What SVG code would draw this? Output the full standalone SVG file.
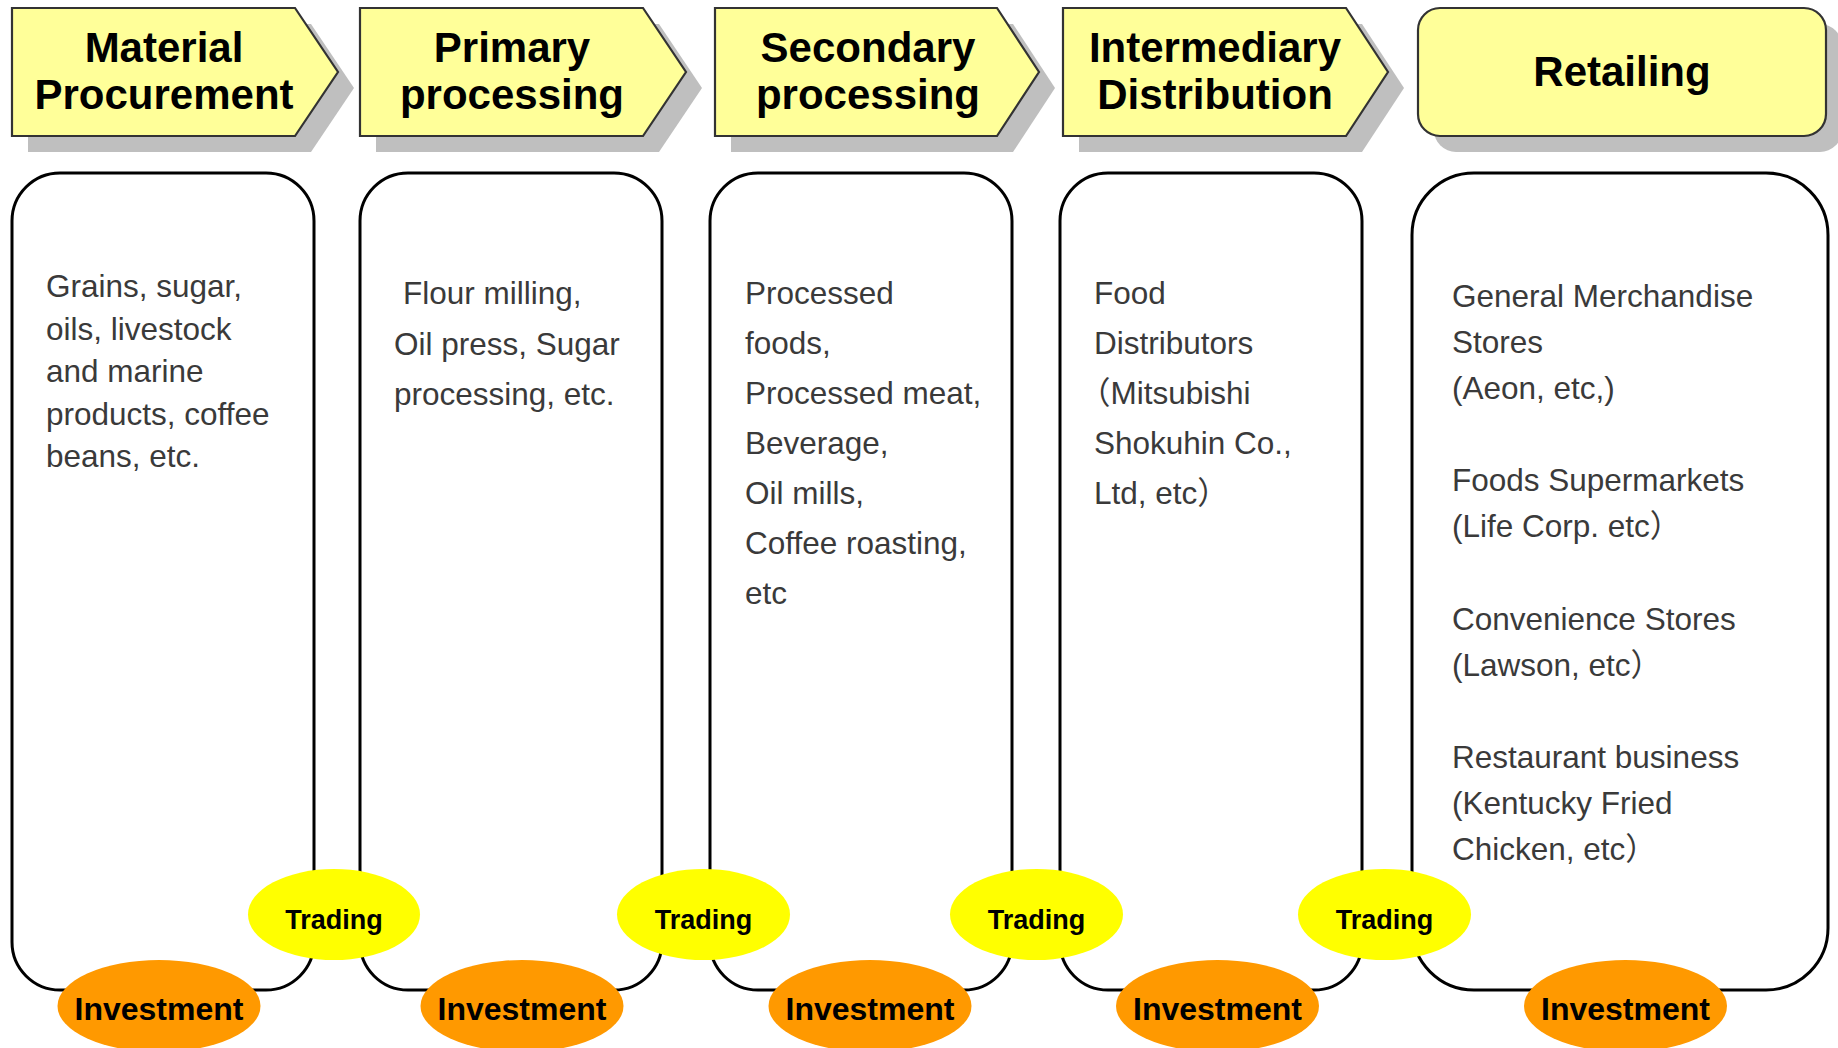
<svg xmlns="http://www.w3.org/2000/svg" width="1838" height="1048" viewBox="0 0 1838 1048">
<defs>
<style>
.shadow{fill:#bfbfbf;stroke:none}
.head{fill:#ffff99;stroke:#333333;stroke-width:2.2}
.htxt{font-family:"Liberation Sans",Arial,sans-serif;font-weight:bold;font-size:42px;fill:#000;text-anchor:middle}
.box{fill:#ffffff;stroke:#000;stroke-width:3}
.body{font-family:"Liberation Sans",Arial,"Noto Sans CJK JP",sans-serif;font-size:31.5px;fill:#3a3a3a}
.trade{fill:#ffff00}
.invest{fill:#ff9900}
.ttxt{font-family:"Liberation Sans",Arial,sans-serif;font-weight:bold;font-size:27px;fill:#000;text-anchor:middle}
.itxt{font-family:"Liberation Sans",Arial,sans-serif;font-weight:bold;font-size:32px;fill:#000;text-anchor:middle}
</style>
</defs>
<rect width="1838" height="1048" fill="#ffffff"/>

<g id="header-material">
<polygon class="shadow" points="28,24 311,24 354,88 311,152 28,152"/>
<polygon class="head" points="12,8 295,8 338,72 295,136 12,136"/>
<text class="htxt" x="164" y="62">Material</text>
<text class="htxt" x="164" y="109">Procurement</text>
</g>
<g id="header-primary">
<polygon class="shadow" points="376,24 659,24 702,88 659,152 376,152"/>
<polygon class="head" points="360,8 643,8 686,72 643,136 360,136"/>
<text class="htxt" x="512" y="62">Primary</text>
<text class="htxt" x="512" y="109">processing</text>
</g>
<g id="header-secondary">
<polygon class="shadow" points="731,24 1013,24 1055,88 1013,152 731,152"/>
<polygon class="head" points="715,8 997,8 1039,72 997,136 715,136"/>
<text class="htxt" x="868" y="62">Secondary</text>
<text class="htxt" x="868" y="109">processing</text>
</g>
<g id="header-intermediary">
<polygon class="shadow" points="1079,24 1362,24 1404,88 1362,152 1079,152"/>
<polygon class="head" points="1063,8 1346,8 1388,72 1346,136 1063,136"/>
<text class="htxt" x="1215" y="62">Intermediary</text>
<text class="htxt" x="1215" y="109">Distribution</text>
</g>
<g id="header-retailing">
<rect class="shadow" x="1434" y="24" width="408" height="128" rx="22"/>
<rect class="head" x="1418" y="8" width="408" height="128" rx="22"/>
<text class="htxt" x="1622" y="86">Retailing</text>
</g>

<g id="box-material">
<rect class="box" x="12" y="173" width="302" height="817" rx="48"/>
<text class="body"><tspan x="46" y="297">Grains, sugar,</tspan><tspan x="46" y="340">oils, livestock</tspan><tspan x="46" y="382">and marine</tspan><tspan x="46" y="425">products, coffee</tspan><tspan x="46" y="467">beans, etc.</tspan></text>
</g>
<g id="box-primary">
<rect class="box" x="360" y="173" width="302" height="817" rx="48"/>
<text class="body"><tspan x="403" y="304">Flour milling,</tspan><tspan x="394" y="355">Oil press, Sugar</tspan><tspan x="394" y="405">processing, etc.</tspan></text>
</g>
<g id="box-secondary">
<rect class="box" x="710" y="173" width="302" height="817" rx="48"/>
<text class="body"><tspan x="745" y="304">Processed</tspan><tspan x="745" y="354">foods,</tspan><tspan x="745" y="404">Processed meat,</tspan><tspan x="745" y="454">Beverage,</tspan><tspan x="745" y="504">Oil mills,</tspan><tspan x="745" y="554">Coffee roasting,</tspan><tspan x="745" y="604">etc</tspan></text>
</g>
<g id="box-intermediary">
<rect class="box" x="1060" y="173" width="302" height="817" rx="48"/>
<text class="body"><tspan x="1094" y="304">Food</tspan><tspan x="1094" y="354">Distributors</tspan><tspan x="1079" y="404">（Mitsubishi</tspan><tspan x="1094" y="454">Shokuhin Co.,</tspan><tspan x="1094" y="504">Ltd, etc）</tspan></text>
</g>
<g id="box-retailing">
<rect class="box" x="1412" y="173" width="416" height="817" rx="62"/>
<text class="body"><tspan x="1452" y="307">General Merchandise</tspan><tspan x="1452" y="353">Stores</tspan><tspan x="1452" y="399">(Aeon, etc,)</tspan><tspan x="1452" y="491">Foods Supermarkets</tspan><tspan x="1452" y="537">(Life Corp. etc）</tspan><tspan x="1452" y="630">Convenience Stores</tspan><tspan x="1452" y="676">(Lawson, etc）</tspan><tspan x="1452" y="768">Restaurant business</tspan><tspan x="1452" y="814">(Kentucky Fried</tspan><tspan x="1452" y="860">Chicken, etc）</tspan></text>
</g>

<g id="trading-1"><ellipse class="trade" cx="334" cy="914.5" rx="86" ry="45.5"/><text class="ttxt" x="334" y="929">Trading</text></g>
<g id="trading-2"><ellipse class="trade" cx="703.5" cy="914.5" rx="86.5" ry="45.5"/><text class="ttxt" x="703.5" y="929">Trading</text></g>
<g id="trading-3"><ellipse class="trade" cx="1036.5" cy="914.5" rx="86.5" ry="45.5"/><text class="ttxt" x="1036.5" y="929">Trading</text></g>
<g id="trading-4"><ellipse class="trade" cx="1384.5" cy="914.5" rx="86.5" ry="45.5"/><text class="ttxt" x="1384.5" y="929">Trading</text></g>

<g id="investment-1"><ellipse class="invest" cx="159" cy="1006" rx="101.5" ry="46"/><text class="itxt" x="159" y="1020">Investment</text></g>
<g id="investment-2"><ellipse class="invest" cx="522" cy="1006" rx="101.5" ry="46"/><text class="itxt" x="522" y="1020">Investment</text></g>
<g id="investment-3"><ellipse class="invest" cx="870" cy="1006" rx="101.5" ry="46"/><text class="itxt" x="870" y="1020">Investment</text></g>
<g id="investment-4"><ellipse class="invest" cx="1217.5" cy="1006" rx="101.5" ry="46"/><text class="itxt" x="1217.5" y="1020">Investment</text></g>
<g id="investment-5"><ellipse class="invest" cx="1625.5" cy="1006" rx="101.5" ry="46"/><text class="itxt" x="1625.5" y="1020">Investment</text></g>

<g id="connectors"></g>
</svg>
